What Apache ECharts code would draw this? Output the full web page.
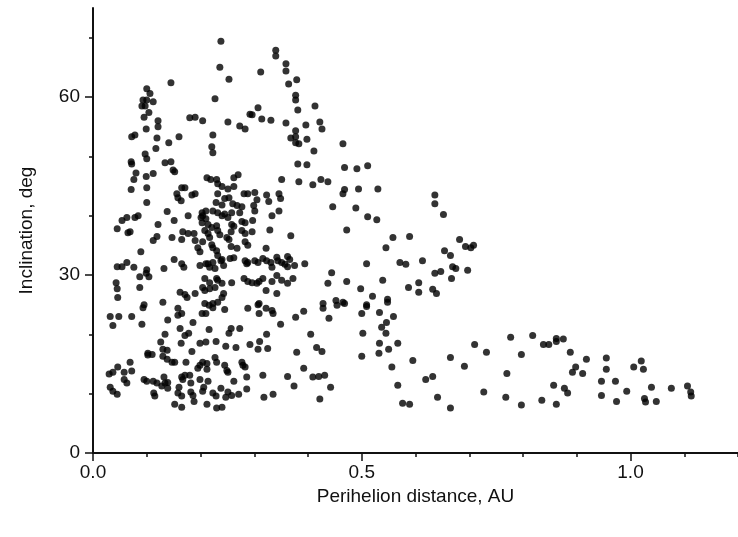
<!DOCTYPE html>
<html><head><meta charset="utf-8">
<script src="https://cdn.jsdelivr.net/npm/echarts@6/dist/echarts.min.js"></script>
<style>html,body{margin:0;padding:0;background:#fff}#c{width:738px;height:537px}</style>
</head><body><div id="c"></div>
<script>
const xLabelTicks = [0, 0.5, 1.0];
const yLabelTicks = [0, 30, 60];
const xMinorTicks = [0, 0.1, 0.2, 0.3, 0.4, 0.5, 0.6, 0.7, 0.8, 0.9, 1.0, 1.1, 1.2];
const yMinorTicks = [0, 10, 20, 30, 40, 50, 60, 70];

const highInclination = [
[0.238,69.4],[0.236,65.0],[0.253,63.0],[0.145,62.4],[0.100,61.4],[0.106,60.6],[0.093,59.5],[0.100,59.5],[0.112,59.2],[0.227,59.7],[0.091,58.5],[0.097,58.5],[0.104,57.4],[0.095,56.6],[0.180,56.5],[0.190,56.6],[0.204,56.0],[0.121,56.0],[0.121,55.0],[0.251,55.8],[0.292,57.1],[0.273,55.1],[0.283,54.6],[0.099,54.6],[0.072,53.3],[0.078,53.6],[0.119,53.1],[0.160,53.3],[0.141,52.3],[0.223,53.6],[0.117,51.3],[0.221,51.6],[0.223,50.6],[0.097,50.4],
[0.340,67.9],[0.340,66.9],[0.359,65.6],[0.312,64.2],[0.359,64.4],[0.364,62.2],[0.379,62.9],[0.377,60.3],[0.377,59.5],[0.381,57.8],[0.413,58.5],[0.307,58.2],[0.296,57.0],[0.314,56.3],[0.331,56.1],[0.359,55.6],[0.396,55.3],[0.422,55.8],[0.426,54.6],[0.377,54.3],[0.368,53.1],[0.377,53.3],[0.398,52.9],[0.377,52.3],[0.383,52.1],[0.465,52.1],[0.411,50.9]
];

const innerMiddle = [
[0.100,49.6],[0.071,49.1],[0.072,48.7],[0.134,48.9],[0.145,49.1],[0.149,47.7],[0.152,47.4],[0.080,47.2],[0.112,47.1],[0.099,46.6],[0.076,46.1],[0.270,46.9],[0.262,46.4],[0.212,46.4],[0.219,46.1],[0.230,46.1],[0.232,45.4],[0.071,44.4],[0.100,44.7],[0.165,44.7],[0.171,44.7],[0.156,43.7],[0.158,43.0],[0.164,42.5],[0.184,43.5],[0.190,43.7],[0.240,44.9],[0.251,44.5],[0.262,44.9],[0.281,43.7],[0.232,43.7],[0.229,42.2],[0.245,42.9],[0.253,43.0],[0.240,41.8],[0.260,42.0],[0.268,41.7],[0.277,41.5],[0.100,42.2],[0.138,40.7],[0.223,40.8],[0.232,40.5],[0.240,40.0],[0.203,40.5],[0.210,40.8],[0.204,40.0],[0.201,39.7],[0.210,39.5],[0.177,40.0],[0.245,40.3],[0.251,39.7],[0.258,40.5],[0.273,40.5],[0.277,39.0],[0.283,38.8],[0.084,40.0],[0.078,39.7],[0.063,39.7],[0.054,39.2],[0.151,39.2],[0.121,38.5],[0.203,38.8],[0.214,38.5],[0.221,38.0],[0.230,38.3],[0.232,37.5],[0.236,36.8],[0.258,38.5],[0.262,38.2],[0.257,37.3],[0.045,37.8],[0.065,37.1],[0.069,37.3],[0.167,37.3],[0.177,37.0],[0.188,37.0],[0.208,37.5],[0.214,37.0],[0.277,37.5],[0.283,37.0],[0.119,36.5],[0.112,35.8],[0.147,36.3],[0.165,36.0],[0.190,35.8],[0.204,35.6],[0.217,36.3],[0.221,35.1],[0.223,34.6],[0.230,34.1],[0.249,36.3],[0.253,36.0],[0.195,34.6],[0.199,33.9],[0.257,34.8],[0.268,34.5],[0.089,33.9],[0.232,33.3],[0.240,32.6],[0.255,32.8],[0.262,32.9],[0.283,32.4],[0.286,31.9],[0.151,32.6],[0.165,31.9],[0.169,31.3],[0.199,31.6],[0.210,31.9],[0.214,31.9],[0.223,32.1],[0.227,31.1],[0.217,31.3],[0.238,32.4],[0.243,31.6],[0.045,31.4],[0.054,31.4],[0.063,32.1],[0.076,31.3],[0.100,30.9],[0.099,30.3],[0.132,31.1],[0.087,29.7],[0.104,29.7],[0.208,29.4],[0.217,28.7],[0.230,29.4],[0.232,29.1],[0.240,28.6],[0.227,27.9],[0.258,28.7],[0.281,29.4],[0.288,28.9],[0.043,28.7],[0.045,27.7],[0.046,26.2],[0.087,27.9],[0.162,27.1],[0.171,26.7],[0.175,26.2],[0.190,26.9],[0.204,27.9],[0.208,27.4],[0.217,27.7],[0.243,26.9],[0.240,26.2],[0.095,25.0],[0.130,25.4],[0.208,25.2],[0.223,25.2],[0.232,25.4]
];

const innerLow = [
[0.093,24.5],[0.032,23.0],[0.048,23.0],[0.072,23.0],[0.037,21.5],[0.091,21.7],[0.158,24.4],[0.158,23.2],[0.165,23.5],[0.139,22.4],[0.186,22.0],[0.203,23.5],[0.210,23.5],[0.216,24.9],[0.223,24.5],[0.245,24.2],[0.288,24.4],[0.134,20.0],[0.162,21.0],[0.171,19.8],[0.178,20.2],[0.216,20.8],[0.257,21.0],[0.273,21.0],[0.253,20.2],[0.126,18.7],[0.164,18.5],[0.199,18.5],[0.210,18.7],[0.229,18.8],[0.247,18.0],[0.266,17.8],[0.292,18.3],[0.130,17.5],[0.138,17.3],[0.184,17.1],[0.102,16.8],[0.110,16.6],[0.102,16.5],[0.130,16.3],[0.138,15.8],[0.147,15.3],[0.152,15.3],[0.173,15.3],[0.199,14.8],[0.204,15.3],[0.212,15.1],[0.195,14.3],[0.212,14.1],[0.227,16.1],[0.230,15.3],[0.245,14.8],[0.249,13.9],[0.251,13.6],[0.277,15.3],[0.279,14.8],[0.069,15.3],[0.072,13.8],[0.046,14.5],[0.037,13.6],[0.030,13.3],[0.058,13.6],[0.058,12.4],[0.063,11.8],[0.095,12.4],[0.100,12.1],[0.112,12.1],[0.119,11.8],[0.128,11.3],[0.134,11.8],[0.139,10.9],[0.132,12.8],[0.139,11.9],[0.165,12.8],[0.171,13.1],[0.180,13.1],[0.167,12.4],[0.182,11.8],[0.199,12.4],[0.214,12.1],[0.206,11.1],[0.204,10.4],[0.160,11.1],[0.158,10.1],[0.165,9.6],[0.182,10.3],[0.186,9.7],[0.223,10.1],[0.229,9.6],[0.238,10.9],[0.247,9.4],[0.251,10.3],[0.258,9.7],[0.271,9.9],[0.286,10.8],[0.262,12.1],[0.286,12.8],[0.032,11.1],[0.037,10.4],[0.045,9.9],[0.113,10.1],[0.115,9.6],[0.152,8.2],[0.165,7.7],[0.188,8.7],[0.212,8.2],[0.230,7.6],[0.240,7.7]
];

const middleBand = [
[0.381,48.7],[0.398,48.6],[0.468,48.1],[0.491,47.9],[0.511,48.4],[0.351,46.1],[0.383,45.7],[0.409,45.2],[0.424,46.1],[0.437,45.7],[0.468,44.4],[0.465,43.7],[0.494,44.5],[0.530,44.5],[0.288,43.7],[0.301,43.9],[0.305,42.7],[0.323,43.5],[0.327,42.4],[0.346,43.7],[0.349,42.9],[0.446,41.5],[0.299,41.7],[0.301,40.8],[0.346,40.8],[0.489,41.3],[0.511,39.8],[0.528,39.3],[0.297,39.2],[0.296,37.3],[0.329,37.6],[0.333,40.0],[0.472,37.6],[0.368,36.6],[0.558,36.3],[0.545,34.6],[0.589,36.5],[0.283,35.6],[0.288,35.0],[0.322,34.5],
[0.288,32.1],[0.301,32.4],[0.307,32.1],[0.316,32.8],[0.323,32.4],[0.331,32.1],[0.333,31.3],[0.342,33.0],[0.344,32.4],[0.351,32.1],[0.357,31.8],[0.362,33.1],[0.366,32.6],[0.362,31.4],[0.375,31.6],[0.394,31.9],[0.509,31.9],[0.571,32.1],[0.582,31.8],
[0.296,28.7],[0.305,28.6],[0.309,28.9],[0.316,29.4],[0.333,28.9],[0.342,29.9],[0.351,29.1],[0.362,28.6],[0.372,29.4],[0.322,27.4],[0.342,26.9],[0.444,30.4],[0.437,28.6],[0.472,28.9],[0.498,27.7],[0.539,29.1],[0.520,26.4],[0.548,25.9],[0.548,25.4],[0.587,27.9],[0.309,25.2],[0.428,25.2],[0.452,25.7],[0.465,25.4],[0.468,25.2],[0.509,25.0],
[0.307,25.0],[0.309,23.5],[0.322,24.4],[0.333,24.0],[0.335,23.5],[0.349,21.7],[0.377,22.9],[0.392,23.9],[0.428,24.4],[0.439,22.7],[0.454,24.9],[0.500,23.5],[0.509,24.7],[0.502,20.2],[0.500,16.3],[0.533,23.7],[0.546,22.0],[0.559,23.0],[0.537,21.2],[0.545,20.2],[0.533,18.5],[0.550,17.5],[0.532,16.8],[0.567,18.5],[0.556,14.5],[0.567,11.4],[0.576,8.4],[0.589,8.2],[0.283,14.5],[0.310,18.8],[0.307,17.5],[0.323,20.0],[0.325,17.6],[0.316,13.1],[0.318,9.4],[0.335,9.9],[0.362,12.9],[0.374,11.3],[0.379,17.0],[0.392,14.3],[0.405,20.0],[0.416,17.8],[0.426,17.1],[0.409,12.8],[0.420,12.9],[0.431,13.1],[0.422,9.1],[0.442,11.1]
];

const outerGroup = [
[0.636,43.5],[0.636,42.0],[0.652,40.2],[0.682,36.0],[0.693,34.8],[0.703,34.6],[0.708,35.0],[0.654,34.1],[0.665,33.3],[0.613,32.4],[0.669,31.4],[0.675,31.1],[0.636,30.3],[0.647,30.6],[0.697,30.8],[0.667,29.4],[0.606,28.7],[0.606,27.1],[0.632,27.6],[0.639,26.9],
[0.595,15.6],[0.619,12.4],[0.632,12.9],[0.641,9.4],[0.665,16.1],[0.665,7.6],[0.691,14.6],[0.710,18.3],[0.732,17.0],[0.727,10.3],[0.777,19.5],[0.770,13.4],[0.768,9.4],[0.797,16.6],[0.797,8.1],[0.818,19.8],[0.838,18.3],[0.848,18.3],[0.862,19.3],[0.862,18.8],[0.875,19.2],[0.835,8.9],[0.862,8.2],[0.857,11.4],[0.877,10.9],[0.883,10.1],[0.888,17.0],
[0.918,15.8],[0.898,14.5],[0.892,13.6],[0.911,13.4],[0.946,12.1],[0.946,9.7],[0.955,16.0],[0.955,14.1],[0.972,12.1],[0.974,8.7],[0.993,10.4],[1.006,14.5],[1.020,15.5],[1.024,14.1],[1.026,9.2],[1.028,8.6],[1.039,11.1],[1.048,8.7],[1.076,10.9],[1.106,11.3],[1.112,10.3],[1.113,9.6]
];

const points = [].concat(highInclination, innerMiddle, innerLow, middleBand, outerGroup);

const font = 'Liberation Sans, Arial, sans-serif';
const chart = echarts.init(document.getElementById('c'), null, {renderer: 'canvas'});
chart.setOption({
  animation: false,
  backgroundColor: '#fff',
  grid: {left: 93, right: 0, top: 8, bottom: 84, containLabel: false},
  xAxis: [{
    type: 'value', min: 0, max: 1.2, interval: 0.1, position: 'bottom',
    axisLine: {show: true, lineStyle: {color: '#111', width: 2}},
    axisTick: {show: true, customValues: xMinorTicks, length: 4, lineStyle: {color: '#111', width: 1.5}},
    axisLabel: {show: true, customValues: xLabelTicks, formatter: v => v.toFixed(1), fontSize: 19, color: '#111', fontFamily: font, margin: 10},
    splitLine: {show: false},
    name: 'Perihelion distance, AU', nameLocation: 'middle', nameGap: 31,
    nameTextStyle: {fontSize: 19, color: '#111', fontFamily: font}
  }, {
    type: 'value', min: 0, max: 1.2, interval: 0.1, position: 'bottom', gridIndex: 0,
    axisLine: {show: false},
    axisTick: {show: true, customValues: xLabelTicks, length: 8, lineStyle: {color: '#111', width: 1.5}},
    axisLabel: {show: false}, splitLine: {show: false}
  }],
  yAxis: [{
    type: 'value', min: 0, max: 75, interval: 10, position: 'left',
    axisLine: {show: true, lineStyle: {color: '#111', width: 2}},
    axisTick: {show: true, customValues: yMinorTicks, length: 4, lineStyle: {color: '#111', width: 1.5}},
    axisLabel: {show: true, customValues: yLabelTicks, fontSize: 19, color: '#111', fontFamily: font, margin: 13},
    splitLine: {show: false},
    name: 'Inclination, deg', nameLocation: 'middle', nameGap: 57,
    nameTextStyle: {fontSize: 19, color: '#111', fontFamily: font}
  }, {
    type: 'value', min: 0, max: 75, interval: 10, position: 'left', gridIndex: 0,
    axisLine: {show: false},
    axisTick: {show: true, customValues: yLabelTicks, length: 8, lineStyle: {color: '#111', width: 1.5}},
    axisLabel: {show: false}, splitLine: {show: false}
  }],
  series: [{
    type: 'scatter', xAxisIndex: 0, yAxisIndex: 0,
    symbol: 'circle', symbolSize: 7,
    itemStyle: {color: '#000'},
    data: points
  }]
});
</script>
</body></html>
